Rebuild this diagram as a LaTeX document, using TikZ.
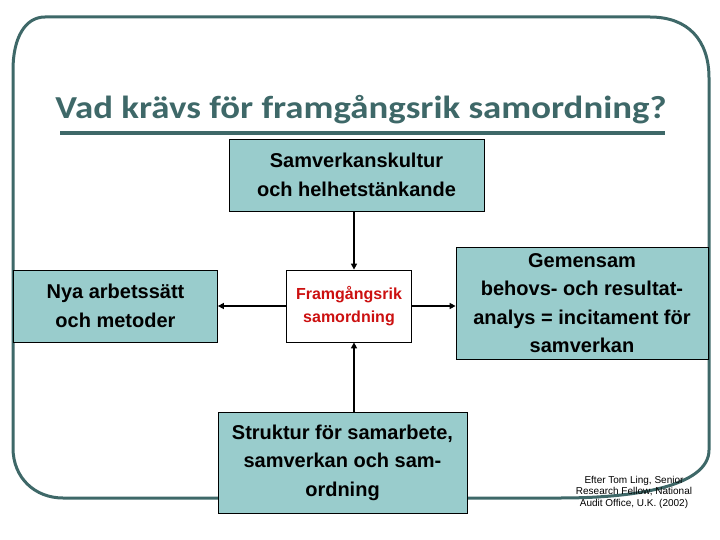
\documentclass[tikz,border=0pt]{standalone}
\usepackage{fontspec}
\setmainfont{Liberation Sans}
\newfontfamily\titlefont{Carlito}
\usetikzlibrary{arrows.meta}
\definecolor{frameteal}{RGB}{62,104,104}
\definecolor{boxteal}{RGB}{153,204,204}
\definecolor{goalred}{RGB}{204,16,16}

\begin{document}
\begin{tikzpicture}[x=1pt,y=-1pt,
  frame/.style={draw=frameteal,line width=3pt},
  factor/.style={draw=black,fill=boxteal,line width=0.8pt,align=center,
    inner sep=0pt,font=\fontsize{20}{28.5}\selectfont\bfseries},
  goal/.style={draw=black,fill=white,line width=0.8pt,align=center,inner sep=0pt,
    text=goalred,font=\fontsize{16}{23}\selectfont\bfseries},
  link/.style={line width=2pt,-{Triangle[length=6pt,width=6pt]}}]
\useasboundingbox (0,0) rectangle (720,540);
% outer frame
\draw [frame] (45,17) -- (650,17) .. controls (688,17) and (709,40) .. (709,78)
  -- (709,450) .. controls (709,482) and (650,498) .. (560,498) -- (63,498)
  .. controls (35,498) and (13,478) .. (13,448) -- (13,70)
  .. controls (13,38) and (25,17) .. (45,17) -- cycle;
% title
\node (title) at (361,110) {\titlefont\color{frameteal}\scalebox{1.15}[1]{\fontsize{32}{32}\selectfont\bfseries Vad kr\"avs f\"or framg\aa ngsrik samordning?}};
\draw [frameteal,line width=3.5pt] (60,133) -- (665,133);
% boxes
\node [factor,minimum width=255pt,minimum height=72pt] (kultur) at (356.5,175) {Samverkanskultur\\och helhetst\"ankande};
\node [factor,minimum width=204pt,minimum height=72pt] (metoder) at (115.5,306) {Nya arbetss\"att\\och metoder};
\node [goal,minimum width=125pt,minimum height=72pt] (mal) at (349,306) {Framg\aa ngsrik\\samordning};
\node [factor,minimum width=252pt,minimum height=112pt] (analys) at (582,303) {Gemensam\\behovs- och resultat-\\analys = incitament f\"or\\samverkan};
\node [factor,minimum width=249pt,minimum height=101pt] (struktur) at (342.5,462.5) {Struktur f\"or samarbete,\\samverkan och sam-\\ordning};
\node [align=center,font=\fontsize{10}{11.5}\selectfont] (kalla) at (634,492) {Efter Tom Ling, Senior\\Research Fellow, National\\Audit Office, U.K. (2002)};
% arrows
\coordinate (axis) at (354,0);
\draw [link] (kultur.south -| axis) -- (mal.north -| axis);
\draw [link] (struktur.north -| axis) -- (mal.south -| axis);
\draw [link] (mal.west) -- (metoder.east |- mal.west);
\draw [link] (mal.east) -- (analys.west |- mal.east);
\end{tikzpicture}
\end{document}
